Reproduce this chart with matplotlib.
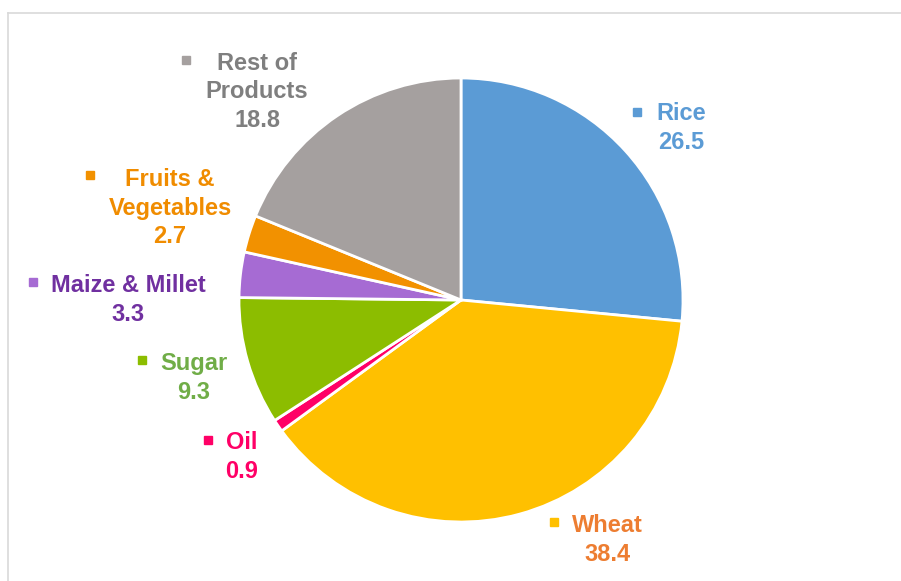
import matplotlib.pyplot as plt
from matplotlib.lines import Line2D

# data
labels = ['Rice', 'Wheat', 'Oil', 'Sugar', 'Maize & Millet', 'Fruits &\nVegetables', 'Rest of\nProducts']
values = [26.5, 38.4, 0.9, 9.3, 3.3, 2.7, 18.8]
slice_colors = ['#5B9BD5', '#FFC000', '#FF0066', '#8CBD00', '#A66BD3', '#F29100', '#A5A09F']
text_colors = ['#5B9BD5', '#ED7D31', '#FF0066', '#70AD47', '#7030A0', '#F08C00', '#7F7F7F']

# label block centres in pixels (x, y from top), and marker positions
label_px = [(681, 128), (607, 540), (242, 457), (194, 378), (128, 300), (170, 208), (257, 92)]
marker_px = [(637, 112), (554, 522), (208, 440), (142, 360), (33, 282), (90, 175), (186, 60)]

W, H = 901, 581
cx, cy, r = 461, 300, 222

plt.rcParams['font.family'] = ['Liberation Sans', 'DejaVu Sans']
fig = plt.figure(figsize=(W / 100, H / 100), dpi=100)
fig.patch.set_facecolor('white')
ax = fig.add_axes([(cx - r) / W, (H - cy - r) / H, 2 * r / W, 2 * r / H])
ax.axis('off')

ax.pie(values, colors=slice_colors, startangle=90, counterclock=False, radius=1,
       wedgeprops=dict(edgecolor='white', linewidth=2))
ax.set_xlim(-1, 1)
ax.set_ylim(-1, 1)


def to_data(px, py):
    return (px - cx) / r, (cy - py) / r


for lab, val, col, mcol, (lx, ly), (mx, my) in zip(labels, values, text_colors, slice_colors, label_px, marker_px):
    x, y = to_data(lx, ly)
    ax.text(x, y, f'{lab}\n{val}', color=col, fontsize=17, fontweight='bold',
            ha='center', va='center', multialignment='center', linespacing=1.3, clip_on=False)
    x, y = to_data(mx, my)
    ax.plot([x], [y], marker='s', markersize=5.5, color=mcol, linestyle='none', clip_on=False)

# chart frame (partly cut off)
fig.add_artist(Line2D([8 / W, 1], [1 - 13 / H, 1 - 13 / H], transform=fig.transFigure, color='#D9D9D9', lw=1.2))
fig.add_artist(Line2D([8 / W, 8 / W], [0, 1 - 13 / H], transform=fig.transFigure, color='#D9D9D9', lw=1.2))

fig.savefig('out.png', dpi=100)
